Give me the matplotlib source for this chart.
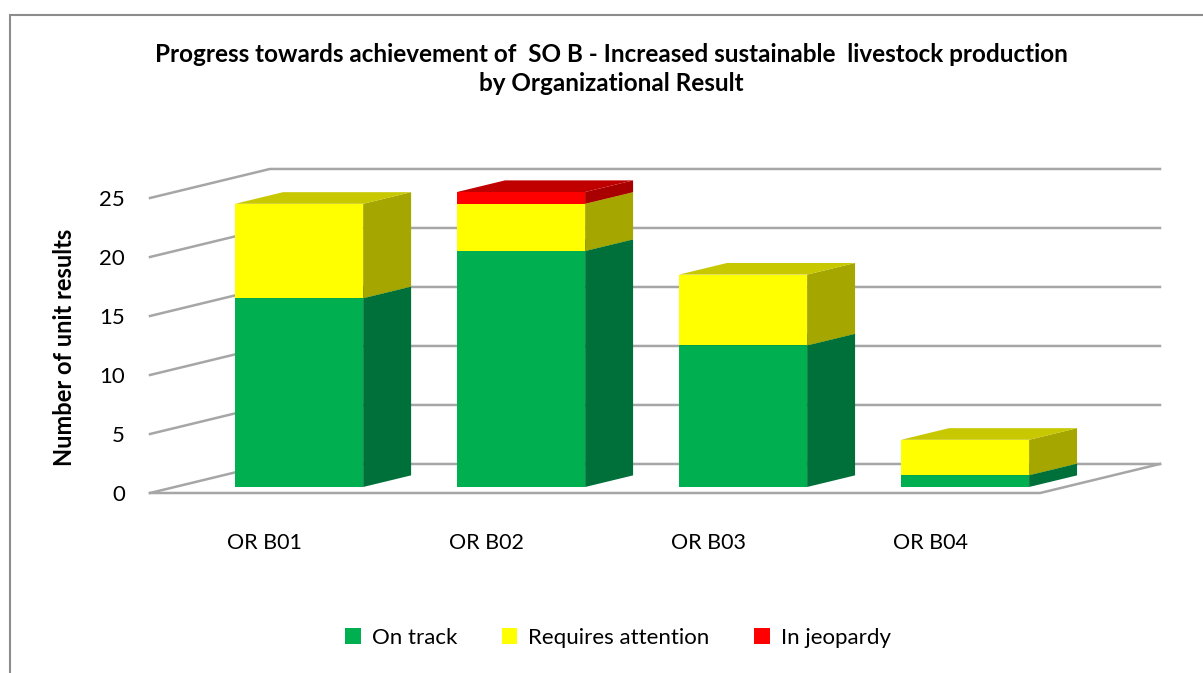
import matplotlib.pyplot as plt
from matplotlib.patches import Polygon, Rectangle, Patch

# Data
categories = ["OR B01", "OR B02", "OR B03", "OR B04"]
series_names = ["On track", "Requires attention", "In jeopardy"]
on_track = [16, 20, 12, 1]
requires_attention = [8, 4, 6, 3]
in_jeopardy = [0, 1, 0, 0]
yticks = [0, 5, 10, 15, 20, 25]

series = [on_track, requires_attention, in_jeopardy]
# (front, side, top) shades for the fake 3D bars
shades = [("#00B050", "#00703A", "#008A3E"),
          ("#FFFF00", "#A6A600", "#C8C800"),
          ("#FF0000", "#A80000", "#C00000")]

plt.rcParams['font.family'] = ['Lato', 'DejaVu Sans']

fig = plt.figure(figsize=(12.03, 6.73), dpi=100)
ax = fig.add_axes([150 / 1203, 180 / 673, 1010 / 1203, 295 / 673])
ax.set_xlim(-0.56, 3.99)
ax.set_ylim(0, 25)

# wall depth in data units, bar placement inside that depth
WX, WY = 0.54, 2.46
x_left, x_right = -0.56, 3.45
f_front, f_depth = 0.207, 0.40
bar_w = 0.577
grid_c = "#a6a6a6"

# gridlines: side wall diagonals + back wall horizontals
for v in yticks:
    ax.plot([x_left, x_left + WX, x_right + WX], [v, v + WY, v + WY],
            color=grid_c, lw=1.8, clip_on=False, zorder=1)
# floor front and right edges
ax.plot([x_left, x_right, x_right + WX], [0, 0, WY],
        color=grid_c, lw=1.8, clip_on=False, zorder=1)

dx, dy = f_depth * WX, f_depth * WY
for i in range(len(categories)):
    x0 = i + f_front * WX - bar_w / 2
    x1 = x0 + bar_w
    base = f_front * WY
    for s, (front, side, top) in zip(series, shades):
        h = s[i]
        if h == 0:
            continue
        y0, y1 = base, base + h
        ax.add_patch(Polygon([(x0, y0), (x1, y0), (x1, y1), (x0, y1)],
                             closed=True, fc=front, ec="none", zorder=3, clip_on=False))
        ax.add_patch(Polygon([(x1, y0), (x1 + dx, y0 + dy), (x1 + dx, y1 + dy), (x1, y1)],
                             closed=True, fc=side, ec="none", zorder=3, clip_on=False))
        ax.add_patch(Polygon([(x0, y1), (x1, y1), (x1 + dx, y1 + dy), (x0 + dx, y1 + dy)],
                             closed=True, fc=top, ec="none", zorder=3, clip_on=False))
        base = y1

ax.set_yticks(yticks)
ax.set_yticklabels([str(t) for t in yticks], fontsize=16)
ax.set_xticks([i - 0.045 for i in range(len(categories))])
ax.set_xticklabels(categories, fontsize=15.5)
ax.tick_params(axis='y', length=0, pad=18)
ax.tick_params(axis='x', length=0, pad=29)
for sp in ax.spines.values():
    sp.set_visible(False)
ax.patch.set_alpha(0)

fig.text(65 / 1203, 1 - 347 / 673, "Number of unit results", rotation=90,
         ha='center', va='center', fontsize=17, fontweight='bold')
fig.text(611 / 1203, 1 - 69 / 673,
         "Progress towards achievement of  SO B - Increased sustainable  livestock production\nby Organizational Result",
         ha='center', va='center', fontsize=17.5, fontweight='bold', linespacing=1.35)

handles = [Patch(fc=sh[0], ec="none") for sh in shades]
fig.legend(handles, series_names, loc='center', bbox_to_anchor=(618 / 1203, 1 - 638 / 673),
           ncol=3, frameon=False, fontsize=16, handlelength=0.7, handleheight=0.7,
           handletextpad=0.5, columnspacing=2.0)

# outer chart frame (runs off the right and bottom edge)
fig.add_artist(Rectangle((10 / 1203, -0.1), 1.2, 1 - 15 / 673 + 0.1,
                         transform=fig.transFigure, fill=False, ec="#8c8c8c", lw=1.5))

fig.savefig("out.png", dpi=100)
